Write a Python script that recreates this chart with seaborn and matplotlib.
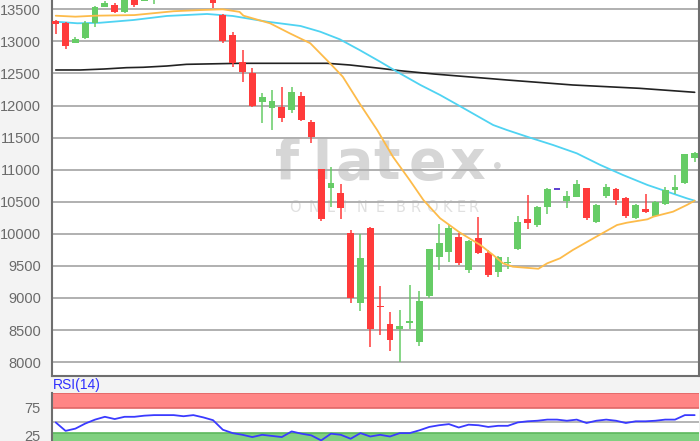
"""
Recreate the flatex candlestick chart with moving averages and an RSI(14) panel.
"""

import numpy as np
import pandas as pd
import matplotlib
matplotlib.use("Agg")
import matplotlib.pyplot as plt
import seaborn as sns

# --- daily candles ---
opens = [13322, 13291, 12979, 13048, 13282, 13541, 13567, 13463, 13720, 13634,
         13690, 13760, 13810, 13740, 13850, 13760, 13700, 13411, 13099, 12683,
         12502, 12059, 11957, 11972, 11930, 12148, 11748, 11006, 10709, 10631,
         10008, 8926, 10095, 8874, 8594, 8520, 8614, 8318, 9030, 9643,
         9721, 9954, 9436, 9929, 9705, 9409, 9549, 9758, 10226, 10137,
         10423, 10694, 10516, 10569, 10709, 10189, 10589, 10694, 10553, 10242,
         10388, 10277, 10465, 10683, 10797, 11177]
highs = [13330, 13300, 13073, 13322, 13551, 13634, 13594, 13760, 13760, 13720,
         13800, 13850, 13860, 13880, 13870, 13790, 13720, 13420, 13151, 12866,
         12580, 12190, 12242, 12284, 12284, 12215, 11770, 11010, 11037, 10776,
         10059, 9997, 10100, 9186, 8776, 8812, 9202, 9113, 9758, 10148,
         10137, 10016, 9900, 10256, 9747, 9660, 9643, 10277, 10605, 10433,
         10709, 10694, 10672, 10839, 10720, 10470, 10776, 10720, 10570, 10460,
         10620, 10510, 10725, 10912, 11244, 11270]
lows = [13110, 12876, 12970, 13040, 13229, 13530, 13440, 13450, 13531, 13630,
        13583, 13700, 13720, 13720, 13740, 13680, 13515, 12970, 12605, 12371,
        11980, 11723, 11618, 11748, 11879, 11763, 11411, 10204, 10423, 10226,
        8926, 8801, 8240, 8427, 8177, 8006, 8511, 8254, 9000, 9436,
        9559, 9510, 9394, 9680, 9322, 9331, 9447, 9747, 10070, 10101,
        10309, 10694, 10398, 10569, 10215, 10164, 10553, 10449, 10242, 10230,
        10320, 10257, 10449, 10620, 10780, 11123]
closes = [13271, 12928, 13032, 13291, 13531, 13594, 13453, 13720, 13567, 13690,
          13760, 13810, 13740, 13850, 13760, 13700, 13603, 13010, 12658, 12527,
          11992, 12137, 12070, 11801, 12215, 11774, 11504, 10226, 10797, 10398,
          8994, 9618, 8511, 8860, 8344, 8563, 8636, 8957, 9758, 9861,
          10086, 9549, 9888, 9705, 9357, 9638, 9565, 10189, 10164, 10413,
          10694, 10694, 10590, 10776, 10242, 10449, 10734, 10527, 10277, 10449,
          10346, 10500, 10683, 10734, 11244, 11256]

# --- moving averages (candle index, value) ---
ma_fast_x = [0, 2, 4, 8, 12, 15, 17, 18.7, 19.1, 21.8, 23.8, 25.9, 27.9, 29.2,
             30.9, 32.7, 34.3, 36.0, 37.4, 39.1, 41.1, 43.2, 44.5, 45.5, 46.5,
             49.1, 50.0, 51.3, 52.6, 54.7, 57.1, 58.1, 60.2, 60.8, 62.8, 64.2, 65]
ma_fast_y = [13400, 13385, 13400, 13410, 13470, 13490, 13500, 13460, 13400, 13282,
             13126, 12970, 12658, 12449, 12035, 11618, 11202, 10839, 10527, 10242,
             10020, 9825, 9669, 9540, 9487, 9455, 9540, 9618, 9747, 9930,
             10137, 10173, 10226, 10267, 10345, 10449, 10516]
ma_mid_x = [0, 2.2, 4.5, 7.9, 11.3, 15.4, 18.0, 21.5, 24.9, 26.9, 28.9, 30.9,
            33.0, 35.0, 37.1, 39.1, 41.1, 44.5, 45.9, 48.3, 50.6, 53.0, 55.4,
            57.7, 60.2, 62.2, 64.2, 65]
ma_mid_y = [13307, 13282, 13290, 13333, 13396, 13427, 13396, 13307, 13240, 13151,
            13032, 12866, 12683, 12502, 12320, 12164, 11992, 11696, 11618, 11496,
            11384, 11255, 11073, 10917, 10761, 10657, 10553, 10516]
ma_slow_x = [0, 2.5, 4.9, 7.2, 8.9, 11.3, 13.3, 16.0, 18.7, 27.6, 29.9, 33.0,
             35.0, 38.5, 45.9, 52.6, 59.4, 65]
ma_slow_y = [12554, 12554, 12569, 12590, 12596, 12616, 12642, 12650, 12658, 12658,
             12632, 12580, 12543, 12491, 12398, 12320, 12268, 12206]

# --- RSI(14) ---
rsi = [49, 34, 38, 47, 54, 59, 55, 59, 59, 61, 62, 62, 62, 60, 62, 58, 53, 36,
       30, 27, 23, 27, 25, 23, 33, 29, 26, 17, 29, 27, 20, 30, 24, 27, 24, 30,
       30, 35, 41, 44, 46, 40, 45, 44, 41, 43, 43, 49, 51, 52, 54, 54, 52, 54,
       48, 52, 54, 52, 48, 51, 51, 52, 54, 54, 62, 62]

price_ticks = list(range(8000, 14000, 500))
rsi_ticks = [25, 75]

W, H = 700, 441
UP, DOWN, DOJI = "#66cc66", "#ff3b3b", "#5b3fd0"
GRID = "#b0b0b0"
SPINE = "#6e6e6e"
LABEL = "#6a6a6a"
MARK = "#d6d6d6"


def px(x, y):
    """Pixel position -> figure fraction."""
    return x / W, 1 - y / H


def draw_candles(ax, df):
    up = df["close"] >= df["open"]
    colors = np.where(up, UP, DOWN)
    ax.vlines(df.index, df["low"], df["high"], colors=colors, lw=1.1, zorder=3)
    body = df[df["open"] != df["close"]]
    bcol = np.where(body["close"] > body["open"], UP, DOWN)
    ax.bar(body.index, (body["close"] - body["open"]).abs(),
           bottom=body[["open", "close"]].min(axis=1), width=0.7,
           color=bcol, linewidth=0, zorder=4)
    doji = df[df["open"] == df["close"]]
    ax.hlines(doji["open"], doji.index - 0.35, doji.index + 0.35,
              colors=DOJI, lw=1.4, zorder=4)


def main():
    sns.set_style("white")
    plt.rcParams["font.family"] = ["Liberation Sans", "DejaVu Sans"]

    df = pd.DataFrame({"open": opens, "high": highs, "low": lows, "close": closes})

    fig = plt.figure(figsize=(7, 4.41), dpi=100, facecolor="#f3f3f3")
    l, b = px(52, 376)
    ax = fig.add_axes([l, b, 647 / W, 376 / H])
    rl, rb = px(52, 450)
    rsi_ax = fig.add_axes([rl, rb, 647 / W, 57 / H])

    # main price panel
    ax.set_facecolor("white")
    ax.set_xlim(-0.38, 65.44)
    ax.set_ylim(7783, 13645)
    ax.set_yticks(price_ticks)
    ax.set_xticks([])
    ax.yaxis.grid(True, color=GRID, lw=1.4, zorder=1)
    ax.set_axisbelow(True)
    ax.tick_params(axis="y", length=2, pad=6, color=SPINE, labelsize=10.5,
                   labelcolor=LABEL)
    for side in ["left", "bottom", "right"]:
        ax.spines[side].set_color(SPINE)
        ax.spines[side].set_linewidth(1.5)
    ax.spines["top"].set_visible(False)

    # watermark
    tr = fig.transFigure
    for ch, x in zip("flatex", [287, 322, 354, 387, 427, 467]):
        ax.text(*px(x, 179), ch, transform=tr, ha="center", va="baseline",
                fontsize=40, fontweight="bold", color=MARK,
                family="DejaVu Sans", zorder=0.5)
    ax.text(*px(497, 167), "\u2022", transform=tr, ha="center", va="center",
            fontsize=18, color=MARK, zorder=0.5)
    broker_x = [295, 314, 331, 345, 362, 380, 401, 416, 432, 447, 461, 474]
    for ch, x in zip("ONLINEBROKER", broker_x):
        ax.text(*px(x, 211.5), ch, transform=tr, ha="center", va="baseline",
                fontsize=10.5, color="#e0e0e0", family="DejaVu Sans", zorder=0.5)

    sns.lineplot(x=ma_slow_x, y=ma_slow_y, ax=ax, color="#222222", lw=1.2,
                 sort=False, estimator=None, zorder=2)
    sns.lineplot(x=ma_mid_x, y=ma_mid_y, ax=ax, color="#4fd3f2", lw=1.3,
                 sort=False, estimator=None, zorder=2)
    sns.lineplot(x=ma_fast_x, y=ma_fast_y, ax=ax, color="#fdbb4a", lw=1.3,
                 sort=False, estimator=None, zorder=5)
    draw_candles(ax, df)
    ax.set_xlabel("")
    ax.set_ylabel("")

    # RSI panel
    rsi_ax.set_facecolor("white")
    rsi_ax.set_xlim(-0.38, 65.44)
    rsi_ax.set_ylim(0, 101.3)
    rsi_ax.axhspan(75, 105, color="#ff8585", lw=0, zorder=1)
    rsi_ax.axhline(75, color="#e06666", lw=1.2, zorder=1.5)
    rsi_ax.axhline(100.5, color="#e06666", lw=1.2, zorder=1.5)
    rsi_ax.axhspan(-5, 31, color="#80d080", lw=0, zorder=1)
    rsi_ax.axhline(31, color="#5cb85c", lw=1.2, zorder=1.5)
    rsi_ax.axhline(50, color=GRID, lw=1.3, zorder=1.5)
    sns.lineplot(x=np.arange(len(rsi)), y=rsi, ax=rsi_ax, color="#3a3aff",
                 lw=1.3, zorder=3)
    rsi_ax.set_yticks(rsi_ticks)
    rsi_ax.set_xticks([])
    rsi_ax.tick_params(axis="y", length=2, pad=6, color=SPINE, labelsize=10.5,
                       labelcolor=LABEL)
    for side in ["top", "bottom", "right"]:
        rsi_ax.spines[side].set_visible(False)
    rsi_ax.spines["left"].set_color(SPINE)
    rsi_ax.spines["left"].set_linewidth(1.5)
    fig.text(*px(53, 389), "RSI(14)", fontsize=10, color="#2f2fff")

    fig.savefig("out.png", dpi=100, facecolor=fig.get_facecolor())


if __name__ == "__main__":
    main()
